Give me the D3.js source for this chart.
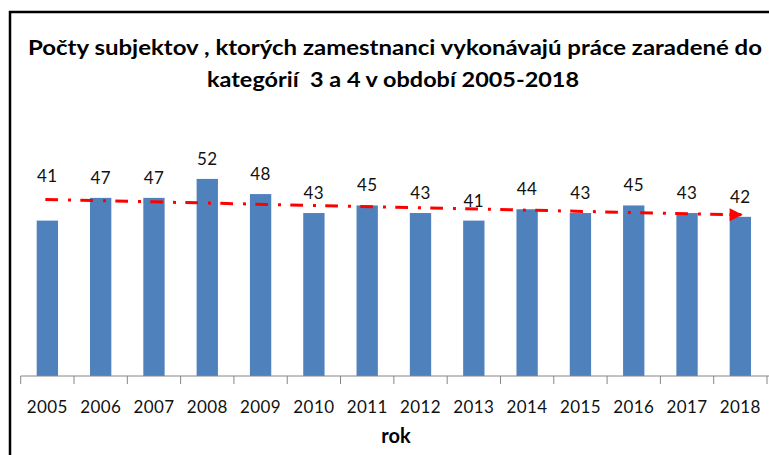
<!DOCTYPE html>
<html lang="sk">
  <head>
    <meta charset="UTF-8" />
    <title>Počty subjektov 2005-2018</title>
    <script src="https://cdn.jsdelivr.net/npm/d3@7"></script>
    <style>
      body {
        margin: 0;
        background: #fff;
      }

      svg {
        display: block;
        font-family: Lato, 'Open Sans', sans-serif;
      }

      .title {
        font-weight: bold;
        font-size: 20px;
        fill: #000;
        white-space: pre;
      }

      .axis path,
      .axis line {
        stroke: #868686;
      }

      .axis text,
      .value {
        font-size: 17px;
        letter-spacing: 0.4px;
        fill: #111;
      }

      .axis-title {
        font-weight: bold;
        font-size: 20px;
      }

      .trend {
        fill: none;
        stroke: #ff0000;
        stroke-width: 3px;
        stroke-dasharray: 12.7, 10, 3, 9.3;
      }
    </style>
  </head>
  <body>
    <svg width="769" height="455"></svg>

    <script>
      const years = ['2005', '2006', '2007', '2008', '2009', '2010', '2011',
        '2012', '2013', '2014', '2015', '2016', '2017', '2018'];
      const counts = [41, 47, 47, 52, 48, 43, 45, 43, 41, 44, 43, 45, 43, 42];
      const titleLines = [
        'Počty subjektov , ktorých zamestnanci vykonávajú práce zaradené do',
        'kategórií  3 a 4 v období 2005-2018',
      ];
      const xTitle = 'rok';

      var svg = d3.select('svg');

      // frame of the original chart object (only left and top edge visible)
      svg.append('rect')
        .attr('x', 10).attr('y', 12)
        .attr('width', 820).attr('height', 500)
        .attr('fill', 'none')
        .attr('stroke', '#000')
        .attr('stroke-width', 2.5);

      svg.selectAll('.title')
        .data(titleLines)
        .enter()
        .append('text')
        .attr('class', 'title')
        .attr('x', (d, i) => (i === 0 ? 28 : 207))
        .attr('y', (d, i) => (i === 0 ? 55 : 86.5))
        .attr('textLength', (d, i) => (i === 0 ? 734 : 372))
        .attr('lengthAdjust', 'spacingAndGlyphs')
        .text((d) => d);

      var x = d3.scaleBand().domain(years).range([20.7, 767]).paddingInner(0.6).paddingOuter(0.3);
      var y = d3.scaleLinear().domain([0, 60]).range([376, 148.6]);

      // bars
      svg.selectAll('.bar')
        .data(counts)
        .enter()
        .append('rect')
        .attr('class', 'bar')
        .attr('x', (d, i) => x(years[i]))
        .attr('y', (d) => y(d))
        .attr('width', x.bandwidth())
        .attr('height', (d) => y(0) - y(d))
        .attr('fill', '#4f81bd');

      // axis: ticks on the category boundaries like Excel
      var axis = svg.append('g')
        .attr('class', 'axis')
        .attr('transform', 'translate(0,' + y(0) + ')');
      var step = x.step();
      var x0 = 20.7;
      axis.append('line').attr('x1', x0).attr('x2', 769).attr('y1', 0).attr('y2', 0);
      axis.selectAll('.tick')
        .data(d3.range(years.length + 1))
        .enter()
        .append('line')
        .attr('class', 'tick')
        .attr('x1', (k) => x0 + k * step)
        .attr('x2', (k) => x0 + k * step)
        .attr('y1', 0)
        .attr('y2', 8);
      axis.selectAll('.lbl')
        .data(years)
        .enter()
        .append('text')
        .attr('class', 'lbl')
        .attr('x', (d) => x(d) + x.bandwidth() / 2)
        .attr('y', 37)
        .attr('text-anchor', 'middle')
        .text((d) => d);

      svg.append('text')
        .attr('class', 'axis-title')
        .attr('x', 396)
        .attr('y', 443)
        .attr('text-anchor', 'middle')
        .text(xTitle);

      // linear trend (least squares over the year index)
      var n = counts.length;
      var mx = d3.mean(d3.range(n));
      var my = d3.mean(counts);
      var slope = d3.sum(counts, (v, i) => (i - mx) * (v - my)) /
        d3.sum(d3.range(n), (i) => (i - mx) * (i - mx));
      var trend = (i) => my + slope * (i - mx);
      var cx = (i) => x(years[i]) + x.bandwidth() / 2;

      svg.append('defs')
        .append('marker')
        .attr('id', 'arrow')
        .attr('viewBox', '0 0 10 10')
        .attr('refX', 9)
        .attr('refY', 5)
        .attr('markerUnits', 'userSpaceOnUse')
        .attr('markerWidth', 14)
        .attr('markerHeight', 13)
        .attr('orient', 'auto')
        .append('path')
        .attr('d', 'M0,0L10,5L0,10Z')
        .attr('fill', '#ff0000');

      svg.append('path')
        .attr('class', 'trend')
        .attr('d', d3.line()([[cx(0) - 2, y(trend(0))], [cx(n - 1) - 10, y(trend(n - 1))]]));
      svg.append('path')
        .attr('d', d3.line()([[cx(n - 1) - 11, y(trend(n - 1))], [cx(n - 1) + 1, y(trend(n - 1))]]))
        .attr('stroke', '#ff0000')
        .attr('stroke-width', 3)
        .attr('marker-end', 'url(#arrow)');

      // value labels, lifted above the trend line when they would sit on it
      svg.selectAll('.value')
        .data(counts)
        .enter()
        .append('text')
        .attr('class', 'value')
        .attr('x', (d, i) => cx(i))
        .attr('y', function (d, i) {
          var base = y(d) - 14;
          var ty = y(trend(i));
          if (ty > base - 12 && ty < base + 2) base = ty - 17;
          return base;
        })
        .attr('text-anchor', 'middle')
        .text((d) => d);
    </script>
  </body>
</html>
